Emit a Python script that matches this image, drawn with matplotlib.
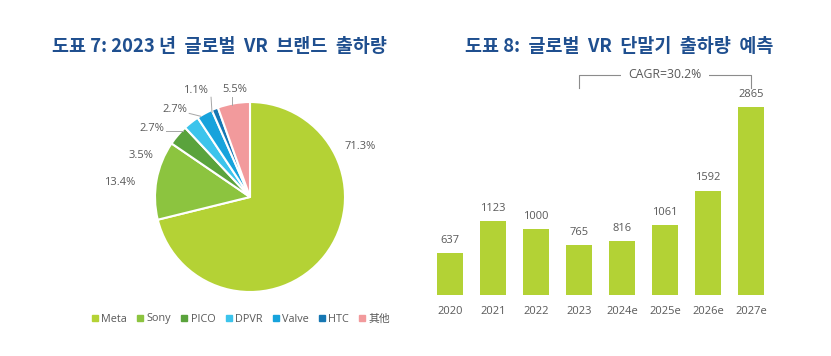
import matplotlib
matplotlib.use("Agg")
import matplotlib.pyplot as plt
from matplotlib.lines import Line2D

plt.rcParams['font.family'] = ['Open Sans', 'Noto Sans CJK KR', 'DejaVu Sans']

# pie data
brands = ['Meta', 'Sony', 'PICO', 'DPVR', 'Valve', 'HTC', '其他']
shares = [71.3, 13.4, 3.5, 2.7, 2.7, 1.1, 5.5]
pie_colors = ['#b4d235', '#8cc43f', '#5aa33c', '#3cc4ec', '#17a3dc', '#1677b3', '#f29a9c']
# label positions (pie units)
label_pos = [(1.16, 0.53), (-1.37, 0.15), (-1.15, 0.44), (-1.03, 0.72),
             (-0.79, 0.92), (-0.57, 1.12), (-0.16, 1.13)]

# bar data
years = ['2020', '2021', '2022', '2023', '2024e', '2025e', '2026e', '2027e']
shipments = [637, 1123, 1000, 765, 816, 1061, 1592, 2865]
cagr_text = 'CAGR=30.2%'

title_color = '#1f4f8f'
text_gray = '#595959'

fig = plt.figure(figsize=(8.31, 3.56), dpi=100)
W, H = 831, 356

fig.text(219 / W, 1 - 46 / H, '도표 7: 2023 년  글로벌  VR  브랜드  출하량', ha='center', va='center',
         fontsize=13.3, fontweight='bold', color=title_color, family=['Noto Sans CJK KR'])
fig.text(619 / W, 1 - 46 / H, '도표 8:  글로벌  VR  단말기  출하량  예측', ha='center', va='center',
         fontsize=13.3, fontweight='bold', color=title_color, family=['Noto Sans CJK KR'])

# pie: center (250,197) px, radius 95 px
r_px = 95
half = 150
ax1 = fig.add_axes([(250 - half) / W, (356 - 197 - half) / H, 2 * half / W, 2 * half / H])
lim = half / r_px
ax1.pie(shares, colors=pie_colors, startangle=90, counterclock=False, radius=1,
        wedgeprops=dict(edgecolor='white', linewidth=1.5))
ax1.set_xlim(-lim, lim)
ax1.set_ylim(-lim, lim)
ax1.set_aspect('equal')
ax1.axis('off')
for s, (lx, ly) in zip(shares, label_pos):
    ax1.text(lx, ly, f'{s}%', ha='center', va='center', fontsize=8, color=text_gray)

# leader lines for small slices
lc = '#a6a6a6'
ax1.plot([-0.88, -0.71], [0.70, 0.70], color=lc, lw=0.7)
ax1.plot([-0.64, -0.52], [0.88, 0.85], color=lc, lw=0.7)
ax1.plot([-0.41, -0.40], [1.05, 0.89], color=lc, lw=0.7)
ax1.plot([-0.19, -0.19], [1.05, 0.97], color=lc, lw=0.7)

handles = [Line2D([0], [0], marker='s', linestyle='', markersize=4, color=c) for c in pie_colors]
fig.legend(handles, brands, loc='center', bbox_to_anchor=(241 / W, 1 - 319 / H), ncol=7,
           frameon=False, fontsize=7.8, handlelength=0.6, handletextpad=0.3, columnspacing=0.9,
           labelcolor=text_gray)

# bars
ax2 = fig.add_axes([428.5 / W, (356 - 295) / H, 344 / W, 236 / H])
x = list(range(len(years)))
ax2.bar(x, shipments, width=0.62, color='#b3d235')
ax2.set_xlim(-0.5, 7.5)
ymax = 2865 * 236 / 188
ax2.set_ylim(0, ymax)
for xi, v in zip(x, shipments):
    ax2.text(xi, v + 110, str(v), ha='center', va='bottom', fontsize=8, color=text_gray)
ax2.set_xticks(x)
ax2.set_xticklabels(years, fontsize=8, color=text_gray)
ax2.tick_params(axis='x', length=0, pad=8)
ax2.set_yticks([])
for sp in ax2.spines.values():
    sp.set_visible(False)

# CAGR bracket
y_top = (295 - 75) / 188 * 2865
y_bot = (295 - 88) / 188 * 2865
ax2.plot([3, 3, 7, 7], [y_bot, y_top, y_top, y_bot], color='#8c8c8c', lw=0.8, clip_on=False)
ax2.text(5, y_top, cagr_text, ha='center', va='center', fontsize=8.8, color=text_gray,
         bbox=dict(facecolor='white', edgecolor='none', pad=5), clip_on=False)

fig.savefig('out.png', dpi=100)
